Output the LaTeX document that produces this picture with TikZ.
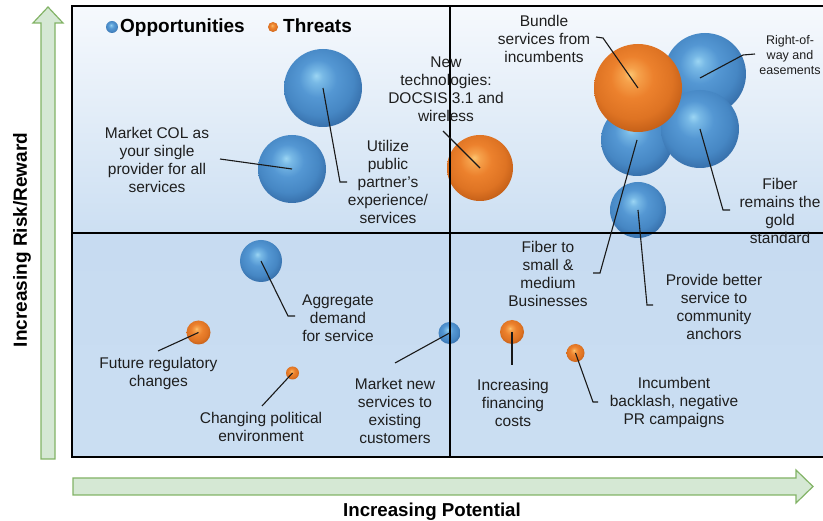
\documentclass[tikz,border=0pt]{standalone}
\usepackage{fontspec}
\setmainfont{Liberation Sans}
\definecolor{arrfill}{RGB}{213,232,212}
\definecolor{arrdraw}{RGB}{130,179,102}
\definecolor{bgTop}{RGB}{246,249,253}
\definecolor{bgMid}{RGB}{204,223,242}
\definecolor{bgLa}{RGB}{199,219,241}
\definecolor{bgLb}{RGB}{181,207,234}
\definecolor{bgLc}{RGB}{202,222,242}
\definecolor{txt}{RGB}{30,30,30}
\definecolor{lnc}{RGB}{25,25,25}
\definecolor{bh0}{RGB}{155,213,243}
\definecolor{bh1}{RGB}{120,185,230}
\definecolor{bh2}{RGB}{84,151,211}
\definecolor{bh3}{RGB}{70,135,196}
\definecolor{bh4}{RGB}{52,107,166}
\definecolor{bh5}{RGB}{44,94,150}
\definecolor{oh0}{RGB}{252,197,112}
\definecolor{oh1}{RGB}{246,162,76}
\definecolor{oh2}{RGB}{236,129,45}
\definecolor{oh3}{RGB}{222,115,35}
\definecolor{oh4}{RGB}{192,92,22}
\definecolor{oh5}{RGB}{170,80,15}
\pgfdeclareradialshading{blueball}{\pgfpoint{-4.5bp}{8bp}}{color(0bp)=(bh0); color(4bp)=(bh1); color(12bp)=(bh2); color(22bp)=(bh3); color(30bp)=(bh4); color(34bp)=(bh5); color(50bp)=(bh5)}
\pgfdeclareradialshading{orangeball}{\pgfpoint{-4.5bp}{8bp}}{color(0bp)=(oh0); color(4bp)=(oh1); color(12bp)=(oh2); color(22bp)=(oh3); color(30bp)=(oh4); color(34bp)=(oh5); color(50bp)=(oh5)}
\tikzset{
  blueb/.style={circle, inner sep=0pt, draw=none, shading=blueball},
  orangeb/.style={circle, inner sep=0pt, draw=none, shading=orangeball},
  lab/.style={align=center, inner sep=0pt, text=txt, font=\fontsize{15.5}{18}\selectfont},
  conn/.style={draw=lnc, line width=1.1pt},
  bigbold/.style={inner sep=0pt, text=black, font=\bfseries\fontsize{19}{22}\selectfont},
  axarrow/.style={fill=arrfill, draw=arrdraw, line width=1.2pt, line join=miter}
}
\begin{document}
\begin{tikzpicture}[x=1pt,y=-1pt]
\useasboundingbox (0,0) rectangle (823,521);
% axis arrows
\draw[axarrow] (41,459) -- (41,23) -- (33,23) -- (48,7) -- (63,23) -- (55,23) -- (55,459) -- cycle;
\draw[axarrow] (73,478) -- (796,478) -- (796,470) -- (813,486.5) -- (796,503) -- (796,495) -- (73,495) -- cycle;
% background
\shade[top color=bgTop, bottom color=bgMid] (72,6) rectangle (826,233);
\shade[top color=bgLa, middle color=bgLb, bottom color=bgLc] (72,233) rectangle (826,457);
% legend
\node[blueb, minimum size=12pt] (lgB) at (112,27) {};
\node[bigbold, anchor=base west] (lgBt) at (120,33) {Opportunities};
\node[orangeb, minimum size=10pt] (lgO) at (273,27) {};
\node[bigbold, anchor=base west] (lgOt) at (283,33) {Threats};
% bubbles
\node[blueb, minimum size=78pt] (b1) at (323,88) {};
\node[blueb, minimum size=68pt] (b2) at (292,169) {};
\node[orangeb, minimum size=66pt] (o3) at (480,168) {};
\node[blueb, minimum size=82pt] (b5) at (705,74) {};
\node[blueb, minimum size=72pt] (b6) at (637,140) {};
\node[blueb, minimum size=78pt] (b7) at (700,129) {};
\node[blueb, minimum size=56pt] (b8) at (638,210) {};
\node[orangeb, minimum size=88pt] (o4) at (638,88) {};
\node[blueb, minimum size=42pt] (b9) at (261,261) {};
\node[orangeb, minimum size=24pt] (o10) at (198.5,332.5) {};
\node[orangeb, minimum size=13pt] (o11) at (292.5,373) {};
\node[blueb, minimum size=22pt] (b12) at (449.5,333) {};
\node[orangeb, minimum size=24pt] (o13) at (512,332) {};
\node[orangeb, minimum size=18pt] (o14) at (575.5,353) {};
% quadrant lines and frame
\draw[line width=1.6pt, black] (450,6) -- (450,457);
\draw[line width=1.6pt, black] (72,233) -- (826,233);
\draw[line width=2pt, black] (72,6) rectangle (826,457);
% connector points
\coordinate (c1) at (340,182); \coordinate (e1) at (347,182);
\coordinate (e2) at (220,159);
\coordinate (e3) at (443,131);
\coordinate (c4) at (603,38); \coordinate (e4) at (596,37);
\coordinate (s5) at (700,78); \coordinate (c5) at (743,55); \coordinate (e5) at (755,54);
\coordinate (c6) at (600,273); \coordinate (e6) at (593,273);
\coordinate (c7) at (723,210); \coordinate (e7) at (730,210);
\coordinate (c8) at (647,305); \coordinate (e8) at (653,305);
\coordinate (c9) at (288,316); \coordinate (e9) at (295,316);
\coordinate (e10) at (158,351);
\coordinate (e11) at (262,406);
\coordinate (e12) at (395,363);
\coordinate (e13) at (512,365);
\coordinate (c14) at (593,402); \coordinate (e14) at (598,402);
% connectors
\draw[conn] (b1.center) -- (c1) -- (e1);
\draw[conn] (b2.center) -- (e2);
\draw[conn] (o3.center) -- (e3);
\draw[conn] (o4.center) -- (c4) -- (e4);
\draw[conn] (s5) -- (c5) -- (e5);
\draw[conn] (b6.center) -- (c6) -- (e6);
\draw[conn] (b7.center) -- (c7) -- (e7);
\draw[conn] (b8.center) -- (c8) -- (e8);
\draw[conn] (b9.center) -- (c9) -- (e9);
\draw[conn] (o10.center) -- (e10);
\draw[conn] (o11.center) -- (e11);
\draw[conn] (b12.center) -- (e12);
\draw[conn] (o13.center) -- (e13);
\draw[conn] (o14.center) -- (c14) -- (e14);
% labels
\node[lab] (tUtil) at (388,182) {Utilize\\public\\partner's\\experience/\\services};
\node[lab] (tCOL) at (157,160) {Market COL as\\your single\\provider for all\\services};
\node[lab] (tNew) at (446,89) {New\\technologies:\\DOCSIS 3.1 and\\wireless};
\node[lab] (tBun) at (544,38.5) {Bundle\\services from\\incumbents};
\node[lab, font=\fontsize{12.5}{15}\selectfont] (tRow) at (790,55) {Right-of-\\way and\\easements};
\node[lab] (tFsm) at (548,274) {Fiber to\\small \&\\medium\\Businesses};
\node[lab] (tGold) at (780,211) {Fiber\\remains the\\gold\\standard};
\node[lab] (tProv) at (714,307) {Provide better\\service to\\community\\anchors};
\node[lab] (tAgg) at (338,318) {Aggregate\\demand\\for service};
\node[lab] (tFut) at (158.5,373) {Future regulatory\\changes};
\node[lab] (tChg) at (261,427) {Changing political\\environment};
\node[lab] (tMkt) at (395,411) {Market new\\services to\\existing\\customers};
\node[lab] (tFin) at (513,403) {Increasing\\financing\\costs};
\node[lab] (tInc) at (674,402) {Incumbent\\backlash, negative\\PR campaigns};
% axis titles
\node[bigbold, rotate=90, anchor=base] (ytitle) at (27,240) {Increasing Risk/Reward};
\node[bigbold, anchor=base, font=\bfseries\fontsize{18.7}{22}\selectfont] (xtitle) at (432,517) {Increasing Potential};
\end{tikzpicture}
\end{document}
